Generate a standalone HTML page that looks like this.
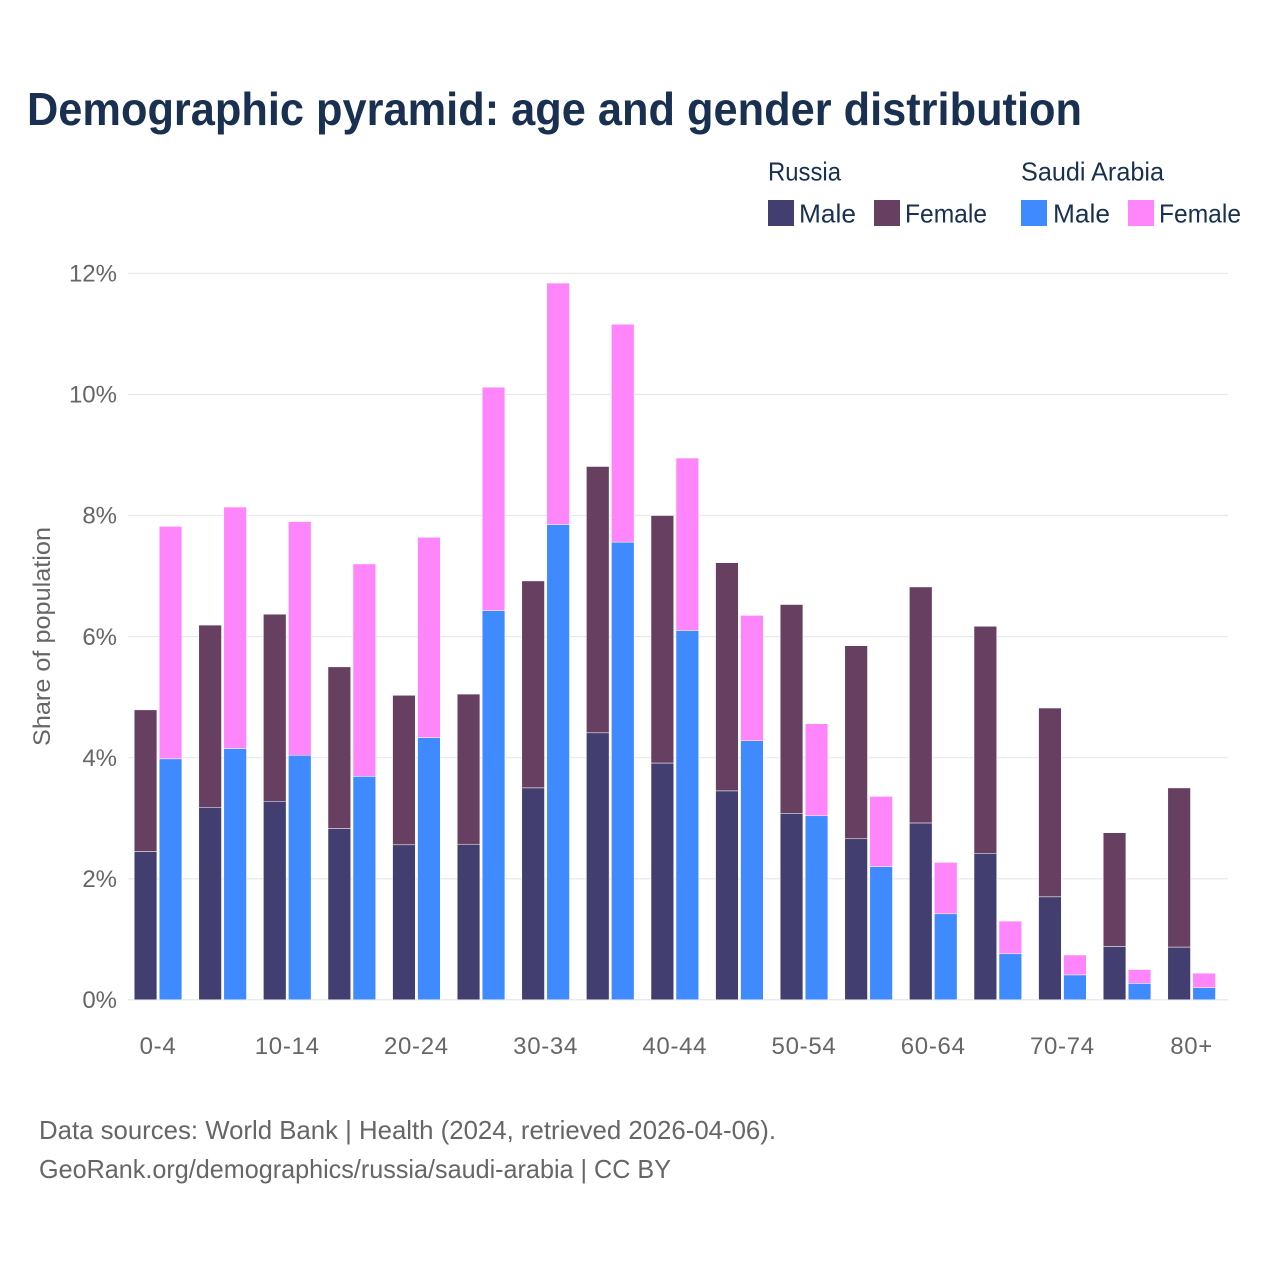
<!DOCTYPE html>
<html lang="en">
<head>
<meta charset="utf-8">
<title>Demographic pyramid: age and gender distribution</title>
<style>
html,body{margin:0;padding:0;background:#fff;}
svg{display:block;font-family:"Liberation Sans",sans-serif;}
</style>
</head>
<body>
<svg id="chart" width="1280" height="1280" viewBox="0 0 1280 1280" xmlns="http://www.w3.org/2000/svg">
  <rect width="1280" height="1280" fill="#ffffff"/>
  <text x="27" y="125" font-size="46" font-weight="700" fill="#1a3050" textLength="1055" lengthAdjust="spacingAndGlyphs">Demographic pyramid: age and gender distribution</text>

  <g font-size="26" fill="#1a3050">
    <text x="768" y="180.5" textLength="73" lengthAdjust="spacingAndGlyphs">Russia</text>
    <text x="1021" y="180.5" textLength="143" lengthAdjust="spacingAndGlyphs">Saudi Arabia</text>
    <rect x="768" y="200" width="26" height="26" fill="#433e70"/>
    <text x="799" y="222.5" textLength="57" lengthAdjust="spacingAndGlyphs">Male</text>
    <rect x="874" y="200" width="26" height="26" fill="#674061"/>
    <text x="905" y="222.5" textLength="82" lengthAdjust="spacingAndGlyphs">Female</text>
    <rect x="1021" y="200" width="26" height="26" fill="#408aff"/>
    <text x="1053" y="222.5" textLength="57" lengthAdjust="spacingAndGlyphs">Male</text>
    <rect x="1128" y="200" width="26" height="26" fill="#ff85fb"/>
    <text x="1159" y="222.5" textLength="82" lengthAdjust="spacingAndGlyphs">Female</text>
  </g>

  <g id="grid"></g>
  <g id="bars"></g>
  <g id="yticks"></g>
  <g id="xticks"></g>

  <text transform="translate(50,636.5) rotate(-90)" text-anchor="middle" font-size="24" fill="#666666" textLength="219" lengthAdjust="spacingAndGlyphs">Share of population</text>

  <text x="39" y="1139" font-size="26" fill="#666666" textLength="737" lengthAdjust="spacingAndGlyphs">Data sources: World Bank | Health (2024, retrieved 2026-04-06).</text>
  <text x="39" y="1178" font-size="26" fill="#666666" textLength="632" lengthAdjust="spacingAndGlyphs">GeoRank.org/demographics/russia/saudi-arabia | CC BY</text>
</svg>
<script>
var categories = ['0-4','5-9','10-14','15-19','20-24','25-29','30-34','35-39','40-44','45-49','50-54','55-59','60-64','65-69','70-74','75-79','80+'];
var tickLabelEvery = 2;
var yTicks = [0, 2, 4, 6, 8, 10, 12];
var russiaMale = [2.45,3.18,3.28,2.83,2.56,2.57,3.50,4.41,3.91,3.45,3.08,2.66,2.92,2.42,1.70,0.88,0.87];
var russiaFemale = [2.34,3.01,3.09,2.67,2.47,2.48,3.42,4.40,4.09,3.77,3.45,3.19,3.90,3.75,3.12,1.88,2.63];
var saudiMale = [3.98,4.15,4.04,3.69,4.33,6.43,7.85,7.56,6.10,4.28,3.04,2.20,1.42,0.76,0.41,0.27,0.20];
var saudiFemale = [3.84,3.99,3.86,3.51,3.31,3.69,3.99,3.60,2.85,2.07,1.52,1.16,0.85,0.54,0.33,0.23,0.24];

var NS = 'http://www.w3.org/2000/svg';
function yScale(v) { return 999.8 - v * (726.4 / 12); }
function xScale(i) { return 134.2 + i * 64.6; }
var BAR_W = 22.7;
var BAR_STEP = 25;

function make(tag, attrs, parent) {
  var el = document.createElementNS(NS, tag);
  for (var k in attrs) el.setAttribute(k, attrs[k]);
  parent.appendChild(el);
  return el;
}

var grid = document.getElementById('grid');
var yticksG = document.getElementById('yticks');
yTicks.forEach(function (t) {
  var y = yScale(t);
  var line = make('line', {x1: 128, x2: 1228, y1: y, y2: y, stroke: t === 0 ? '#e3e3e8' : '#e9e9ec', 'stroke-width': 1.2}, grid);
  
  
  var label = make('text', {x: 117, y: y + 8.2, 'text-anchor': 'end', 'font-size': 24, fill: '#666666'}, yticksG);
  label.textContent = t + '%';
  
  
});

var xticksG = document.getElementById('xticks');
var barsG = document.getElementById('bars');
function stackedBar(group, x, base, top, baseFill, topFill) {
  var yBase = yScale(base);
  var yTop = yScale(base + top);
  var rTop = make('rect', {x: x, y: yTop, width: BAR_W, height: yBase - yTop, fill: topFill, stroke: '#ffffff', 'stroke-width': 0.5}, group);
  
  
  var rBase = make('rect', {x: x, y: yBase, width: BAR_W, height: yScale(0) - yBase, fill: baseFill, stroke: '#ffffff', 'stroke-width': 0.5}, group);
  
  
}
categories.forEach(function (c, i) {
  var g = make('g', {}, barsG);
  
  
  var x0 = xScale(i);
  stackedBar(g, x0, russiaMale[i], russiaFemale[i], '#433e70', '#674061');
  stackedBar(g, x0 + BAR_STEP, saudiMale[i], saudiFemale[i], '#408aff', '#ff85fb');
  if (i % tickLabelEvery === 0) {
    var label = make('text', {x: x0 + 23.8, y: 1054, 'text-anchor': 'middle', 'font-size': 24, 'letter-spacing': 0.7, fill: '#666666'}, xticksG);
    label.textContent = c;
    
    
  }
});
</script>
</body>
</html>
